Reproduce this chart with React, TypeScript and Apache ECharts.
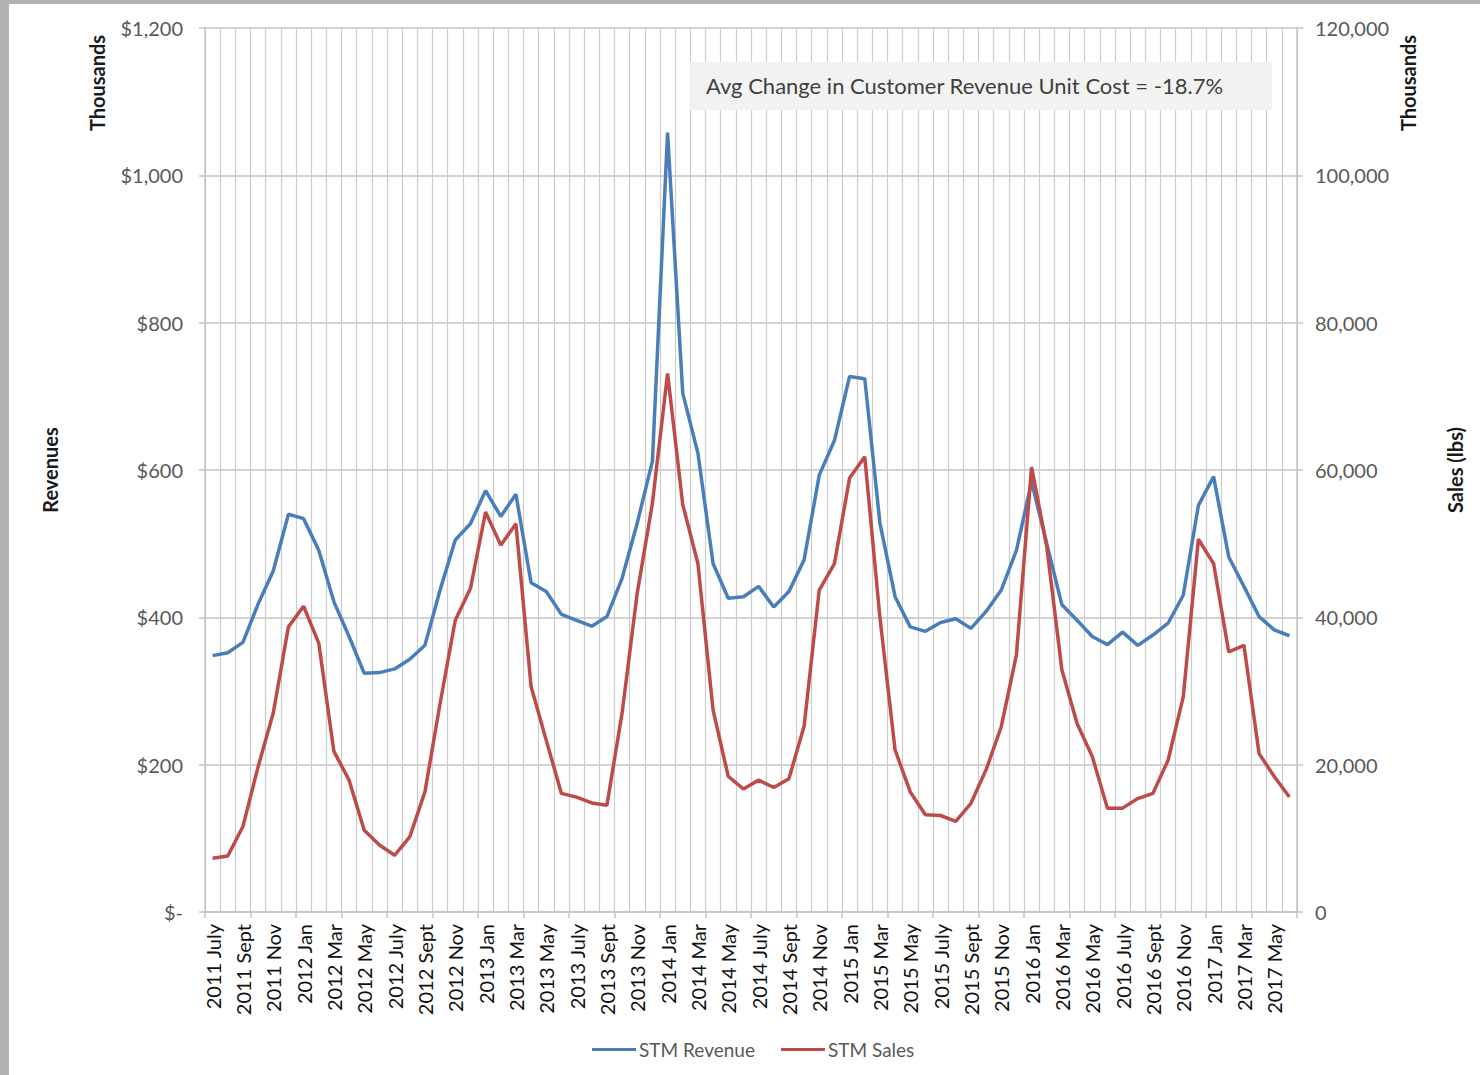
import React, { useEffect, useRef } from "react";
import * as echarts from "echarts";

const monthNames = ["Jan", "Feb", "Mar", "Apr", "May", "June", "July", "Aug", "Sept", "Oct", "Nov", "Dec"];
const startYear = 2011;
const startMonthIndex = 6; // July
const monthCount = 72;
const categories: string[] = [];
for (let k = 0; k < monthCount; k++) {
  const m = startMonthIndex + k;
  categories.push(`${startYear + Math.floor(m / 12)} ${monthNames[m % 12]}`);
}

// STM Revenue, $ thousands (left axis)
const revenue = [
  348, 352, 366, 418, 463, 540, 534, 491, 421, 374, 324, 325,
  330, 343, 362, 437, 505, 527, 572, 537, 567, 447, 435, 404,
  396, 388, 401, 453, 528, 612, 1058, 704, 623, 473, 426, 428,
  442, 414, 435, 478, 593, 640, 727, 724, 528, 428, 387, 381,
  393, 398, 385, 408, 437, 491, 584, 500, 417, 396, 374, 363,
  380, 362, 376, 392, 430, 552, 591, 482, 442, 401, 383, 375,
];

// STM Sales, lbs thousands (right axis)
const sales = [
  7300, 7600, 11600, 19700, 27000, 38700, 41500, 36500, 21800, 17900, 11100, 9100,
  7700, 10200, 16300, 28300, 39600, 43900, 54300, 49800, 52700, 30600, 23300, 16100,
  15600, 14800, 14500, 27000, 43300, 55500, 73100, 55300, 47300, 27400, 18400, 16700,
  17900, 16900, 18100, 25200, 43700, 47300, 58900, 61800, 40000, 22000, 16300, 13200,
  13100, 12300, 14750, 19300, 25150, 34900, 60400, 49600, 32850, 25600, 21100, 14100,
  14100, 15400, 16100, 20600, 29200, 50600, 47300, 35300, 36200, 21500, 18400, 15600,
];

const seriesNames = ["STM Revenue", "STM Sales"];
const annotation = "Avg Change in Customer Revenue Unit Cost = -18.7%";
const FONT = "Lato, 'Noto Sans', sans-serif";
const GRID_GRAY = "#c4c4c4";

export default function App() {
  const ref = useRef<HTMLDivElement>(null);
  useEffect(() => {
    if (!ref.current) return;
    const chart = echarts.init(ref.current, null, { renderer: "svg" });
    const titleStyle = {
      fontSize: 20,
      fontWeight: "bold",
      fontFamily: FONT,
      fill: "#1a1a1a",
      textAlign: "center",
      textVerticalAlign: "middle",
    };
    chart.setOption({
      animation: false,
      backgroundColor: "#ffffff",
      textStyle: { fontFamily: FONT },
      grid: { left: 205, right: 183, top: 28, bottom: 163, containLabel: false },
      legend: {
        data: seriesNames,
        left: 587,
        top: 1035,
        icon: "rect",
        itemWidth: 44,
        itemHeight: 3,
        itemGap: 26,
        textStyle: { fontSize: 19, color: "#595959", fontFamily: FONT, padding: [0, 0, 0, -2] },
      },
      xAxis: {
        type: "category",
        data: categories,
        boundaryGap: true,
        axisLine: { show: true, lineStyle: { color: GRID_GRAY, width: 1.5 } },
        axisTick: { show: true, interval: 2, length: 6, lineStyle: { color: GRID_GRAY, width: 1.5 } },
        axisLabel: {
          interval: 1,
          rotate: 90,
          margin: 12,
          fontSize: 20,
          color: "#111111",
          fontFamily: FONT,
        },
        splitLine: { show: true, interval: 0, lineStyle: { color: "#cccccc", width: 1.2 } },
      },
      yAxis: [
        {
          type: "value",
          min: 0,
          max: 1200,
          interval: 200,
          position: "left",
          axisLine: { show: true, lineStyle: { color: GRID_GRAY, width: 1.5 } },
          axisTick: { show: true, length: 6, lineStyle: { color: GRID_GRAY, width: 1.5 } },
          axisLabel: {
            margin: 22,
            fontSize: 20,
            color: "#595959",
            fontFamily: FONT,
            formatter: (v: number) => (v === 0 ? "$-" : "$" + v.toLocaleString("en-US")),
          },
          splitLine: { show: true, lineStyle: { color: GRID_GRAY, width: 1.5 } },
        },
        {
          type: "value",
          min: 0,
          max: 120000,
          interval: 20000,
          position: "right",
          axisLine: { show: true, lineStyle: { color: GRID_GRAY, width: 1.5 } },
          axisTick: { show: true, length: 6, lineStyle: { color: GRID_GRAY, width: 1.5 } },
          axisLabel: {
            margin: 18,
            fontSize: 20,
            color: "#595959",
            fontFamily: FONT,
            formatter: (v: number) => v.toLocaleString("en-US"),
          },
          splitLine: { show: false },
        },
      ],
      series: [
        {
          name: seriesNames[0],
          type: "line",
          data: revenue,
          yAxisIndex: 0,
          symbol: "none",
          lineStyle: { color: "#4a7ebb", width: 3.5 },
          itemStyle: { color: "#4a7ebb" },
          z: 3,
        },
        {
          name: seriesNames[1],
          type: "line",
          data: sales,
          yAxisIndex: 1,
          symbol: "none",
          lineStyle: { color: "#be4b48", width: 3.5 },
          itemStyle: { color: "#be4b48" },
          z: 4,
        },
      ],
      graphic: [
        { type: "rect", left: 0, top: 0, shape: { width: 1480, height: 4 }, style: { fill: "#b2b2b2" }, z: 100 },
        { type: "rect", left: 0, top: 0, shape: { width: 9, height: 1075 }, style: { fill: "#b2b2b2" }, z: 100 },
        {
          type: "rect",
          shape: { x: 690, y: 62, width: 582, height: 48 },
          style: { fill: "#f2f2f2" },
          z: 100,
        },
        {
          type: "text",
          x: 706,
          y: 85,
          z: 101,
          style: {
            text: annotation,
            fontSize: 22,
            fontFamily: FONT,
            fill: "#404040",
            textAlign: "left",
            textVerticalAlign: "middle",
          },
        },
        { type: "text", x: 97, y: 83, rotation: Math.PI / 2, z: 101, style: { ...titleStyle, text: "Thousands" } },
        { type: "text", x: 50, y: 470, rotation: Math.PI / 2, z: 101, style: { ...titleStyle, text: "Revenues" } },
        { type: "text", x: 1408, y: 83, rotation: Math.PI / 2, z: 101, style: { ...titleStyle, text: "Thousands" } },
        { type: "text", x: 1455, y: 470, rotation: Math.PI / 2, z: 101, style: { ...titleStyle, text: "Sales (lbs)" } },
      ],
    });
    return () => chart.dispose();
  }, []);
  return (
    <div
      ref={ref}
      style={{ position: "fixed", left: 0, top: 0, width: 1480, height: 1075, background: "#fff" }}
    />
  );
}
